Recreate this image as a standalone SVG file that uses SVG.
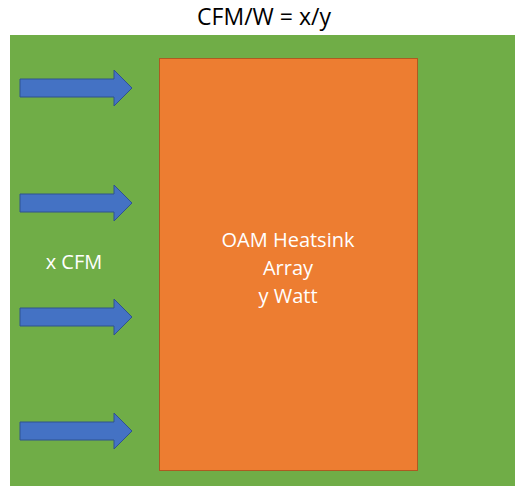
<svg xmlns="http://www.w3.org/2000/svg" width="515" height="486" viewBox="0 0 515 486">
<style>
text{font-family:"Open Sans","Liberation Sans",sans-serif}
.w{fill:#fff;font-size:20px;text-anchor:middle}
.arr{fill:#4472C4;stroke:#2F528F;stroke-width:1}
</style>
<defs>
<path id="ar" d="M20,-9 H114 V-18 L132,0 L114,18 V9 H20 Z"/>
</defs>
<rect width="515" height="486" fill="#fff"/>
<text x="264" y="25" font-size="23" text-anchor="middle" fill="#000">CFM/W = x/y</text>
<g id="chamber"><rect x="10" y="35" width="505" height="451" fill="#70AD47"/></g>
<g id="heatsink">
<rect x="159.5" y="58.5" width="258" height="412" fill="#ED7D31" stroke="#AE5A21" stroke-width="1"/>
<text class="w" x="288" y="247">OAM Heatsink</text>
<text class="w" x="288" y="275">Array</text>
<text class="w" x="288" y="303">y Watt</text>
</g>
<g id="airflow">
<use href="#ar" class="arr" y="88"/>
<use href="#ar" class="arr" y="203"/>
<use href="#ar" class="arr" y="317"/>
<use href="#ar" class="arr" y="431"/>
<text class="w" x="74" y="269">x CFM</text>
</g>
</svg>
